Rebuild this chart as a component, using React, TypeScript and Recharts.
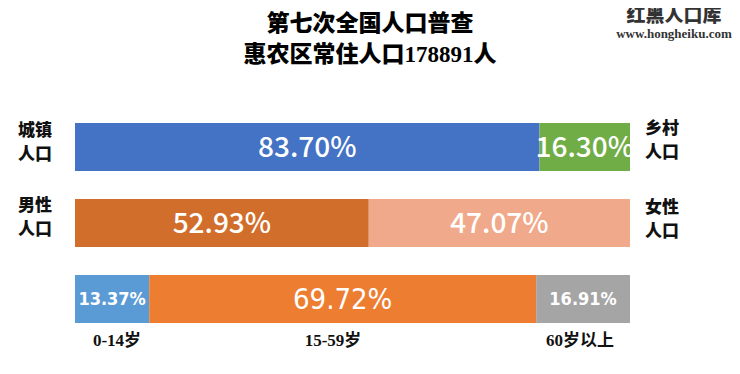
import { BarChart, Bar, XAxis, YAxis, LabelList } from "recharts";

// 第七次全国人口普查 惠农区
const rows = ["城乡", "性别", "年龄"];
const urbanRural = [83.7, 16.3]; // 城镇, 乡村
const sexShare = [52.93, 47.07]; // 男性, 女性
const ageShare = [13.37, 69.72, 16.91]; // 0-14, 15-59, 60+

const leftLabels = [["城镇", "人口"], ["男性", "人口"]];
const rightLabels = [["乡村", "人口"], ["女性", "人口"]];
const ageLabels = ["0-14岁", "15-59岁", "60岁以上"];

const data = [
  { row: rows[0], s0: urbanRural[0], s1: urbanRural[1] },
  { row: rows[1], s2: sexShare[0], s3: sexShare[1] },
  { row: rows[2], s4: ageShare[0], s5: ageShare[1], s6: ageShare[2] },
];

const cjk = "'Noto Sans CJK SC', sans-serif";
const narrow = "'DejaVu Sans Condensed', 'Noto Sans CJK SC', sans-serif";
const serifMix = "'Liberation Serif', 'Noto Sans CJK SC', serif";

const series = [
  { key: "s0", color: "#4472C4", size: 28, font: cjk, weight: 500 },
  { key: "s1", color: "#70AD47", size: 28, font: cjk, weight: 500 },
  { key: "s2", color: "#D26E2B", size: 28, font: cjk, weight: 500 },
  { key: "s3", color: "#F0A98A", size: 28, font: cjk, weight: 500 },
  { key: "s4", color: "#5B9BD5", size: 18, font: narrow, weight: 700 },
  { key: "s5", color: "#ED7D31", size: 29, font: narrow, weight: 400 },
  { key: "s6", color: "#A5A5A5", size: 18, font: narrow, weight: 700 },
];

const fmt = (v: any) => (v == null ? "" : `${Number(v).toFixed(2)}%`);

const SideLabel = ({ lines, x, y }: { lines: string[]; x: number; y: number }) => (
  <div
    style={{
      position: "absolute",
      left: x,
      top: y,
      fontFamily: cjk,
      fontWeight: 900,
      fontSize: 17,
      lineHeight: "24px",
      color: "#111",
    }}
  >
    {lines.map((l) => (
      <div key={l}>{l}</div>
    ))}
  </div>
);

export default function App() {
  return (
    <div style={{ position: "relative", width: 732, height: 366 }}>
      <div
        style={{
          position: "absolute",
          left: 0,
          width: 732,
          top: 0,
          textAlign: "center",
          fontFamily: serifMix,
          fontWeight: 900,
          fontSize: 23,
          lineHeight: "31px",
          color: "#000",
        }}
      >
        <div style={{ marginLeft: -8 }}>第七次全国人口普查</div>
        <div style={{ marginLeft: -8 }}>惠农区常住人口178891人</div>
      </div>
      <div
        style={{
          position: "absolute",
          left: 596,
          top: -6,
          width: 140,
          textAlign: "center",
          color: "#333",
        }}
      >
        <div style={{ fontFamily: cjk, fontWeight: 900, fontSize: 19, lineHeight: "24px" }}>红黑人口库</div>
        <div style={{ fontFamily: "'Liberation Serif', serif", fontWeight: 700, fontSize: 13, lineHeight: "16px" }}>
          www.hongheiku.com
        </div>
      </div>

      <SideLabel lines={leftLabels[0]} x={10} y={109} />
      <SideLabel lines={leftLabels[1]} x={10} y={184} />
      <SideLabel lines={rightLabels[0]} x={637} y={107} />
      <SideLabel lines={rightLabels[1]} x={637} y={186} />

      <div style={{ position: "absolute", left: 0, top: 0 }}>
        <BarChart
          width={732}
          height={366}
          layout="vertical"
          data={data}
          barCategoryGap={14}
          margin={{ top: 101, right: 110, bottom: 37, left: 67 }}
        >
          <XAxis type="number" domain={[0, 100]} hide />
          <YAxis type="category" dataKey="row" hide />
          {series.map((s) => (
            <Bar key={s.key} dataKey={s.key} stackId="a" fill={s.color} isAnimationActive={false}>
              <LabelList
                dataKey={s.key}
                position="center"
                formatter={fmt}
                fill="#fff"
                fontSize={s.size}
                fontFamily={s.font}
                fontWeight={s.weight}
              />
            </Bar>
          ))}
        </BarChart>
      </div>

      {ageLabels.map((t, i) => {
        const centers = [109, 325, 572];
        return (
          <div
            key={t}
            style={{
              position: "absolute",
              left: centers[i] - 60,
              width: 120,
              top: 321,
              textAlign: "center",
              fontFamily: serifMix,
              fontWeight: 700,
              fontSize: 17,
              lineHeight: "24px",
              color: "#111",
            }}
          >
            {t}
          </div>
        );
      })}
    </div>
  );
}
